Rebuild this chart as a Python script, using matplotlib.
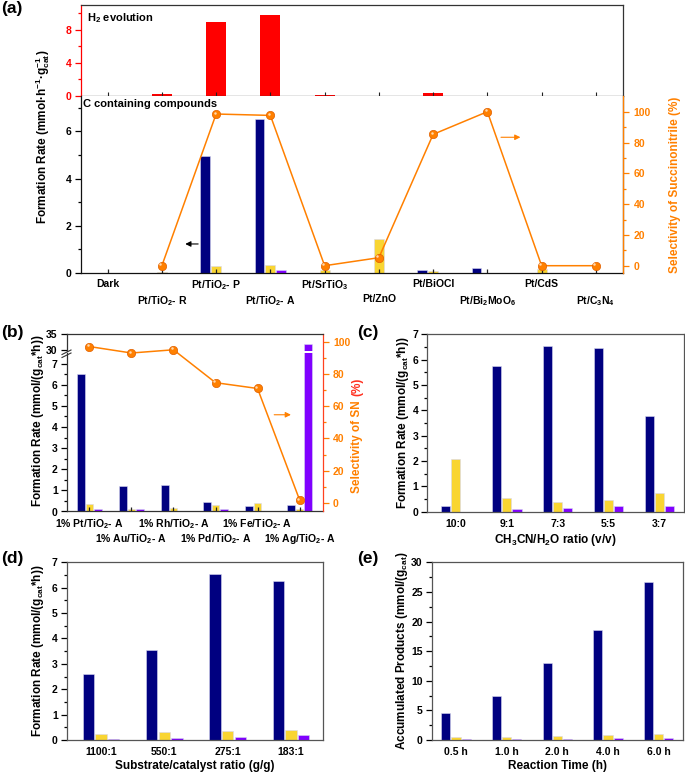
import numpy as np
import matplotlib
matplotlib.use("Agg")
import matplotlib.pyplot as plt
from matplotlib.lines import Line2D
from matplotlib.transforms import offset_copy

plt.rcParams['font.family'] = ['Liberation Sans', 'DejaVu Sans']
plt.rcParams['font.weight'] = 'bold'
plt.rcParams['axes.labelweight'] = 'bold'
plt.rcParams['mathtext.fontset'] = 'custom'
plt.rcParams['mathtext.rm'] = 'Liberation Sans:bold'
plt.rcParams['mathtext.it'] = 'Liberation Sans:bold'
plt.rcParams['mathtext.bf'] = 'Liberation Sans:bold'
plt.rcParams['mathtext.default'] = 'rm'
plt.rcParams['axes.linewidth'] = 0.9

# ---- data -------------------------------------------------------------
cats_a = ['Dark', 'Pt/TiO$_2$- R', 'Pt/TiO$_2$- P', 'Pt/TiO$_2$- A', 'Pt/SrTiO$_3$',
          'Pt/ZnO', 'Pt/BiOCl', 'Pt/Bi$_2$MoO$_6$', 'Pt/CdS', 'Pt/C$_3$N$_4$']
h2_a = [0, 0.2, 8.96, 9.77, 0.15, 0, 0.36, 0, 0, 0]
blue_a = [0, 0, 4.96, 6.52, 0, 0, 0.13, 0.2, 0, 0]
yellow_a = [0, 0.06, 0.3, 0.35, 0.12, 1.44, 0.07, 0, 0.15, 0]
purple_a = [0, 0, 0, 0.13, 0, 0, 0, 0, 0, 0]
sel_a = [np.nan, 0, 98.5, 97.6, 0, 5.2, 85.3, 100, 0, 0]

cats_b = ['1% Pt/TiO$_2$- A', '1% Au/TiO$_2$- A', '1% Rh/TiO$_2$- A',
          '1% Pd/TiO$_2$- A', '1% Fe/TiO$_2$- A', '1% Ag/TiO$_2$- A']
blue_b = [6.52, 1.22, 1.25, 0.44, 0.27, 0.3]
yellow_b = [0.35, 0.1, 0.17, 0.3, 0.4, 0.14]
purple_b = [0.13, 0.1, 0.02, 0.13, 0, 32.0]
sel_b = [97, 93, 95, 74.6, 71, 1.9]

cats_c = ['10:0', '9:1', '7:3', '5:5', '3:7']
blue_c = [0.24, 5.76, 6.55, 6.46, 3.78]
yellow_c = [2.07, 0.55, 0.37, 0.46, 0.72]
purple_c = [0, 0.09, 0.15, 0.24, 0.23]

cats_d = ['1100:1', '550:1', '275:1', '183:1']
blue_d = [2.59, 3.55, 6.53, 6.25]
yellow_d = [0.22, 0.33, 0.35, 0.39]
purple_d = [0.04, 0.09, 0.13, 0.19]

cats_e = ['0.5 h', '1.0 h', '2.0 h', '4.0 h', '6.0 h']
blue_e = [4.5, 7.43, 13.05, 18.55, 26.6]
yellow_e = [0.5, 0.5, 0.65, 0.85, 1.0]
purple_e = [0.15, 0.25, 0.2, 0.3, 0.35]

NAVY = '#000080'
YELLOW = '#F9D532'
PURPLE = '#8000FF'
RED = '#FF0000'
ORANGE = '#FF8000'
FRAME = '#333333'

W, H = 685, 774
fig = plt.figure(figsize=(W / 100, H / 100), dpi=100)


def rect(l, t, r, b):
    return [l / W, 1 - b / H, (r - l) / W, (b - t) / H]


def bars(ax, blue, yellow, purple, w=0.18, off=0.2):
    x = np.arange(len(blue))
    kw = dict(width=w, edgecolor='#d8d8f0', linewidth=0.4)
    ax.bar(x - off, blue, color=NAVY, **kw)
    ax.bar(x, yellow, color=YELLOW, **kw)
    ax.bar(x + off, purple, color=PURPLE, **kw)


def sel_line(ax, x, y):
    ax.plot(x, y, '-', color=ORANGE, lw=1.1, zorder=5)
    ax.plot(x, y, 'o', ms=6, color=ORANGE, mec='#E06000', mew=0.5, zorder=6)
    hl = offset_copy(ax.transData, fig=fig, x=-1.0, y=1.0, units='points')
    ax.plot(x, y, 'o', ms=1.8, color='#FFD9B0', mew=0, transform=hl, zorder=7)


def two_rows(ax, labels, pad2=12):
    n = len(labels)
    ax.set_xticks(np.arange(0, n, 2), labels[0::2])
    ax.set_xticks(np.arange(1, n, 2), labels[1::2], minor=True)
    ax.tick_params(axis='x', which='both', direction='in', length=3, width=0.9,
                   labelsize=7.5, color='#222222')
    ax.tick_params(axis='x', which='major', pad=4)
    ax.tick_params(axis='x', which='minor', pad=4 + pad2)


def bold_ticks(ax):
    for t in ax.get_xticklabels(which='both') + ax.get_yticklabels(which='both'):
        t.set_fontweight('bold')


def frame(ax, color=FRAME):
    for s in ax.spines.values():
        s.set_color(color)


def plabel(x, y, s):
    fig.text(x / W, 1 - y / H, s, fontsize=12.5, fontweight='bold', ha='left', va='center')


# ---- (a) --------------------------------------------------------------
xa = np.arange(len(cats_a))
ax_h = fig.add_axes(rect(80.5, 5, 623, 96))
ax_h.bar(xa, h2_a, width=0.37, color=RED)
ax_h.set_xlim(-0.5, 9.5)
ax_h.set_ylim(0, 11)
ax_h.set_yticks([0, 4, 8])
ax_h.set_yticks([2, 6, 10], minor=True)
frame(ax_h)
ax_h.spines['left'].set_color(RED)
ax_h.tick_params(axis='y', which='both', colors=RED, labelsize=7.5, width=0.9, pad=2.5)
ax_h.tick_params(axis='y', which='major', length=4)
ax_h.tick_params(axis='y', which='minor', length=2.5)
ax_h.set_xticks(xa)
ax_h.tick_params(axis='x', direction='in', length=3, labelbottom=False, color='#222222')
ax_h.text(0.012, 0.86, 'H$_2$ evolution', transform=ax_h.transAxes, fontsize=8, va='center')
bold_ticks(ax_h)

ax_c = fig.add_axes(rect(80.5, 96, 623, 273))
bars(ax_c, blue_a, yellow_a, purple_a)
ax_c.set_xlim(-0.5, 9.5)
ax_c.set_ylim(0, 7.5)
ax_c.set_yticks([0, 2, 4, 6])
ax_c.set_yticks([1, 3, 5, 7], minor=True)
frame(ax_c, '#111111')
ax_c.spines['top'].set_visible(False)
ax_c.tick_params(axis='y', which='major', length=4, labelsize=7.5, width=0.9, pad=2.5)
ax_c.tick_params(axis='y', which='minor', length=2.5, width=0.9)
two_rows(ax_c, cats_a, pad2=11)
bold_ticks(ax_c)
ax_c.text(0.005, 0.955, 'C containing compounds', transform=ax_c.transAxes, fontsize=8, va='center')
ax_c.annotate('', xy=(1.38, 1.23), xytext=(1.72, 1.23),
              arrowprops=dict(arrowstyle='-|>', color='black', lw=0.8, mutation_scale=8))

ax_s = ax_c.twinx()
sel_line(ax_s, xa, sel_a)
ax_s.set_ylim(-4.74, 110.2)
ax_s.set_yticks(np.arange(0, 101, 20))
ax_s.set_yticks(np.arange(10, 101, 20), minor=True)
for k in ['top', 'left', 'bottom']:
    ax_s.spines[k].set_visible(False)
ax_s.spines['right'].set_color(ORANGE)
ax_s.tick_params(axis='y', which='both', colors=ORANGE, labelsize=7.5, width=0.9)
ax_s.tick_params(axis='y', which='major', length=4)
ax_s.tick_params(axis='y', which='minor', length=2.5)
bold_ticks(ax_s)
ax_s.annotate('', xy=(7.66, 83.4), xytext=(7.2, 83.4),
              arrowprops=dict(arrowstyle='-|>', color=ORANGE, lw=0.8, mutation_scale=8))

fig.text(43 / W, 1 - 137 / H, 'Formation Rate (mmol·h$^{-1}$·g$_{cat}^{-1}$)', rotation=90,
         fontsize=8.5, ha='center', va='center')
fig.text(675 / W, 1 - 185 / H, 'Selectivity of Succinonitrile (%)', rotation=90,
         fontsize=8.5, ha='center', va='center', color=ORANGE)
plabel(1, 9, '(a)')

# ---- (b) --------------------------------------------------------------
xb = np.arange(len(cats_b))
xlim_b = (-0.54, 5.55)
ax_bu = fig.add_axes(rect(66.7, 334.3, 322.7, 351))
ax_bl = fig.add_axes(rect(66.7, 353.5, 322.7, 511.5))
for ax in (ax_bu, ax_bl):
    bars(ax, blue_b, yellow_b, purple_b)
    ax.set_xlim(*xlim_b)
    ax.patch.set_alpha(0)
    frame(ax)
    for k in ['top', 'right']:
        ax.spines[k].set_visible(False)
    ax.tick_params(axis='y', which='major', length=4, labelsize=7.5, width=0.9, pad=2.5)
ax_bu.set_ylim(29.7, 35)
ax_bu.set_yticks([30, 35])
ax_bu.spines['bottom'].set_visible(False)
ax_bu.set_xticks([])
ax_bl.set_ylim(0, 7.48)
ax_bl.set_yticks(range(0, 8))
ax_bl.set_yticks(np.arange(0.5, 7.5, 1), minor=True)
ax_bl.tick_params(axis='y', which='minor', length=2.5, width=0.9)
two_rows(ax_bl, cats_b, pad2=11)
bold_ticks(ax_bu)
bold_ticks(ax_bl)

ax_bs = fig.add_axes(rect(66.7, 334.3, 322.7, 511.5))
ax_bs.patch.set_alpha(0)
sel_line(ax_bs, xb, sel_b)
ax_bs.set_xlim(*xlim_b)
ax_bs.set_ylim(-5.3, 104.6)
ax_bs.set_xticks([])
ax_bs.yaxis.tick_right()
ax_bs.set_yticks(np.arange(0, 101, 20))
ax_bs.set_yticks(np.arange(10, 101, 20), minor=True)
frame(ax_bs)
ax_bs.spines['left'].set_visible(False)
ax_bs.spines['bottom'].set_visible(False)
ax_bs.spines['right'].set_color('#FF4020')
ax_bs.tick_params(axis='y', which='both', colors=ORANGE, labelsize=7.5, width=0.9)
ax_bs.tick_params(axis='y', which='major', length=4)
ax_bs.tick_params(axis='y', which='minor', length=2.5)
bold_ticks(ax_bs)
ax_bs.annotate('', xy=(4.86, 54.7), xytext=(4.33, 54.7),
               arrowprops=dict(arrowstyle='-|>', color=ORANGE, lw=0.8, mutation_scale=8))
for dy in (0, 3):
    fig.add_artist(Line2D([62 / W, 71 / W], [1 - (354.5 + dy) / H, 1 - (350 + dy) / H],
                          transform=fig.transFigure, color=FRAME, lw=0.8))

fig.text(38 / W, 1 - 421 / H, 'Formation Rate (mmol/(g$_{cat}$*h))', rotation=90,
         fontsize=8.5, ha='center', va='center')
fig.text(357 / W, 1 - 447 / H, 'Selectivity of SN', rotation=90,
         fontsize=8.5, ha='center', va='center', color=ORANGE)
fig.text(357 / W, 1 - 387 / H, '(%)', rotation=90,
         fontsize=8.5, ha='center', va='center', color='#FF3020')
plabel(1, 333, '(b)')


# ---- (c), (d), (e) ----------------------------------------------------
def simple(box, cats, blue, yellow, purple, xlim, ylim, yticks, minor, xlabel, ylabel, ylx):
    ax = fig.add_axes(rect(*box))
    bars(ax, blue, yellow, purple)
    ax.set_xlim(*xlim)
    ax.set_ylim(*ylim)
    ax.set_xticks(np.arange(len(cats)), cats)
    ax.set_yticks(yticks)
    ax.set_yticks(minor, minor=True)
    frame(ax, '#555555')
    ax.tick_params(axis='x', length=0, labelsize=7.5, pad=5)
    ax.tick_params(axis='y', which='major', length=4, labelsize=7.5, width=0.9, pad=2.5)
    ax.tick_params(axis='y', which='minor', length=2.5, width=0.9)
    bold_ticks(ax)
    ax.set_xlabel(xlabel, fontsize=8.5, labelpad=2.5)
    cy = (box[1] + box[3]) / 2
    fig.text(ylx / W, 1 - cy / H, ylabel, rotation=90, fontsize=8.5, ha='center', va='center')
    return ax


simple((427.3, 334.3, 684, 511.7), cats_c, blue_c, yellow_c, purple_c,
       (-0.56, 4.48), (0, 7), range(0, 8), np.arange(0.5, 7, 1),
       'CH$_3$CN/H$_2$O ratio (v/v)', 'Formation Rate (mmol/(g$_{cat}$*h))', 403)
plabel(357, 333, '(c)')

simple((66.7, 562.3, 322.7, 740), cats_d, blue_d, yellow_d, purple_d,
       (-0.54, 3.5), (0, 7), range(0, 8), np.arange(0.5, 7, 1),
       'Substrate/catalyst ratio (g/g)', 'Formation Rate (mmol/(g$_{cat}$*h))', 38)
plabel(1, 558, '(d)')

simple((431.7, 562.3, 683, 740), cats_e, blue_e, yellow_e, purple_e,
       (-0.48, 4.48), (0, 30), range(0, 31, 5), np.arange(2.5, 30, 5),
       'Reaction Time (h)', 'Accumulated Products (mmol/(g$_{cat}$)', 402)
plabel(357, 558, '(e)')

fig.savefig('out.png', dpi=100)
